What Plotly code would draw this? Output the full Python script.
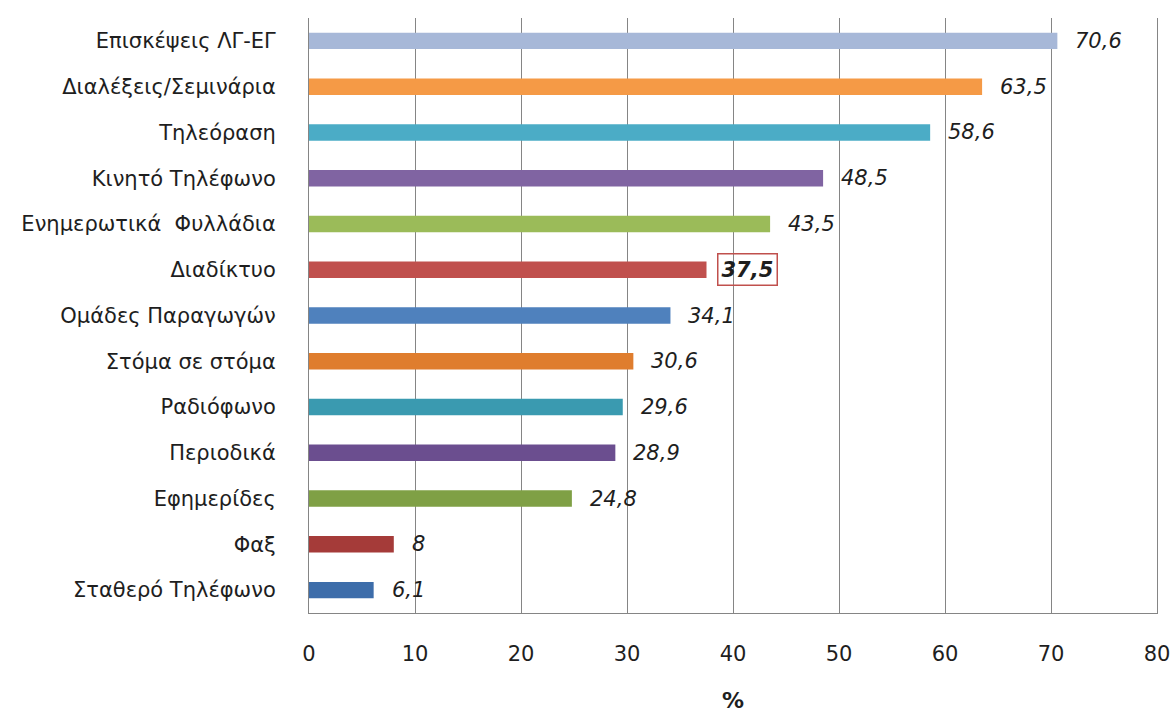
import plotly.graph_objects as go

categories = [
    "Επισκέψεις ΛΓ-ΕΓ",
    "Διαλέξεις/Σεμινάρια",
    "Τηλεόραση",
    "Κινητό Τηλέφωνο",
    "Ενημερωτικά  Φυλλάδια",
    "Διαδίκτυο",
    "Ομάδες Παραγωγών",
    "Στόμα σε στόμα",
    "Ραδιόφωνο",
    "Περιοδικά",
    "Εφημερίδες",
    "Φαξ",
    "Σταθερό Τηλέφωνο",
]
values = [70.6, 63.5, 58.6, 48.5, 43.5, 37.5, 34.1, 30.6, 29.6, 28.9, 24.8, 8, 6.1]
value_labels = ["70,6", "63,5", "58,6", "48,5", "43,5", "37,5", "34,1", "30,6",
                "29,6", "28,9", "24,8", "8", "6,1"]
highlighted = "Διαδίκτυο"
bar_colors = [
    "#A7B8D8", "#F59A46", "#4BACC6", "#8064A2", "#9BBB59", "#C0504D",
    "#4F81BD", "#DF7D2E", "#3A9AB0", "#6B4E8F", "#7FA045", "#A53B39", "#3D6DAA",
]
x_ticks = [0, 10, 20, 30, 40, 50, 60, 70, 80]

font_family = "DejaVu Sans, Open Sans, sans-serif"
text_color = "#1e1e1e"
line_color = "#858585"

fig = go.Figure(
    go.Bar(
        x=values,
        y=categories,
        orientation="h",
        marker=dict(color=bar_colors, line=dict(width=0)),
        width=0.36,
        hoverinfo="x+y",
    )
)

annotations = []
for cat, val, lab in zip(categories, values, value_labels):
    if cat == highlighted:
        annotations.append(dict(
            x=val, y=cat, xref="x", yref="y", text="<b><i>" + lab + "</i></b>",
            showarrow=False, xanchor="left", xshift=10,
            font=dict(size=21, color=text_color, family=font_family),
            bordercolor="#C0504D", borderwidth=1.5, borderpad=3,
            bgcolor="rgba(255,255,255,0)",
        ))
    else:
        annotations.append(dict(
            x=val, y=cat, xref="x", yref="y", text="<i>" + lab + "</i>",
            showarrow=False, xanchor="left", xshift=16,
            font=dict(size=21, color=text_color, family=font_family),
        ))

fig.update_layout(
    width=1175,
    height=713,
    margin=dict(l=309, r=18, t=18, b=100),
    paper_bgcolor="white",
    plot_bgcolor="white",
    showlegend=False,
    annotations=annotations,
    font=dict(family=font_family, color=text_color),
    xaxis=dict(
        range=[0, 80],
        tickvals=x_ticks,
        ticktext=[str(t) for t in x_ticks],
        showgrid=True,
        gridcolor=line_color,
        gridwidth=1,
        zeroline=False,
        showline=True,
        linecolor=line_color,
        linewidth=1,
        ticks="",
        ticklabelstandoff=22,
        tickfont=dict(size=21, color=text_color),
        title=dict(text="<b>%</b>", font=dict(size=22, color=text_color), standoff=28),
        automargin=False,
        fixedrange=True,
    ),
    yaxis=dict(
        autorange="reversed",
        showgrid=False,
        showline=True,
        mirror=True,
        linecolor=line_color,
        linewidth=1,
        ticks="",
        ticklabelstandoff=28,
        tickfont=dict(size=21, color=text_color),
        automargin=False,
        fixedrange=True,
    ),
)

fig.write_html("out.html")
